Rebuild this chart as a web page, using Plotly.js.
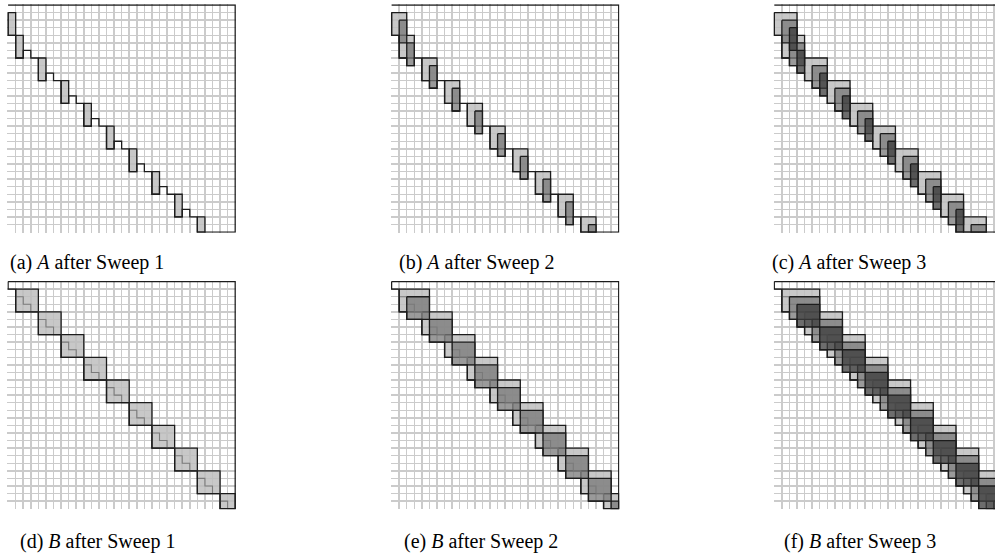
<!DOCTYPE html>
<html><head><meta charset="utf-8">
<script src="https://cdn.plot.ly/plotly-3.0.1.min.js"></script>
<style>html,body{margin:0;padding:0;background:#fff}#chart{width:995px;height:555px}</style>
</head><body><div id="chart"></div>
<script>
// ---- data ----
const N = 30; // matrix order (grid cells per side)
const aAnchorCols = [0, 1, 4, 7, 10, 13, 16, 19, 22, 25];
const aAnchorRows = [1, 4, 7, 10, 13, 16, 19, 22, 25, 28];
const bAnchorCols = [1, 4, 7, 10, 13, 16, 19, 22, 25, 28];
const bAnchorRows = [1, 4, 7, 10, 13, 16, 19, 22, 25, 28];
const blockHeight = 3;
const aBlockWidths = [[1], [2, 1], [3, 2, 1]];   // per sweep, per layer
const bBlockWidths = [[3], [4, 3], [5, 4, 3]];
const layerShift = [0, 1, 2];
const profileA1 = [4, 7,6,7, 10,9,10, 13,12,13, 16,15,16, 19,18,19, 22,21,22, 25,24,25, 28,27,28, 30,30,30,30,30];
const profileA2 = [4, 7,8,7, 10,11,10, 13,14,13, 16,17,16, 19,20,19, 22,23,22, 25,26,25, 28,29,28, 30,30,30,30,30];
const profileA3 = [4, 7,8,9,10,11,12,13,14,15,16,17,18,19,20,21,22,23,24,25,26,27,28,29,30, 30,30,30,30,30];
const profileB1 = [1, 4,4,4, 7,7,7, 10,10,10, 13,13,13, 16,16,16, 19,19,19, 22,22,22, 25,25,25, 28,28,28, 30,30];
const profileB2 = [1, 4,5,5, 7,8,8, 10,11,11, 13,14,14, 16,17,17, 19,20,20, 22,23,23, 25,26,26, 28,29,29, 30,30];
const profileB3 = [1, 4,5,6,7,8,9,10,11,12,13,14,15,16,17,18,19,20,21,22,23,24,25,26,27,28,29,30, 30,30];
const bandB = [1,2,3,4,5,6,7,8,9,10,11,12,13,14,15,16,17,18,19,20,21,22,23,24,25,26,27,28,29,30];
const captionLetters = ['(a)', '(b)', '(c)', '(d)', '(e)', '(f)'];
const captionMatrix = ['A', 'A', 'A', 'B', 'B', 'B'];
const captionSweeps = [1, 2, 3, 1, 2, 3];

// ---- styling / layout ----
const W = 995, H = 555;
const cell = 7.57, pad = 0.1;
const colLeft = [8.1, 391.6, 774.3];
const rowTop = [5.0, 281.6];
const captionPos = [[8, 262], [397, 262], [770, 262], [18, 541], [402, 541], [782, 541]];
const layerFill = ['rgba(190,190,190,0.85)', 'rgba(120,120,120,0.75)', 'rgba(60,60,60,0.75)'];
const edgeColor = '#1c1c1c';

const panels = [];
for (let p = 0; p < 6; p++) {
  const isA = p < 3;
  panels.push({
    isA, sweep: captionSweeps[p],
    profile: [profileA1, profileA2, profileA3, profileB1, profileB2, profileB3][p],
    col: p % 3, row: Math.floor(p / 3)
  });
}

const traces = [];
const layout = {
  width: W, height: H, margin: {l: 0, r: 0, t: 0, b: 0},
  paper_bgcolor: '#fff', plot_bgcolor: '#fff', showlegend: false,
  annotations: []
};

panels.forEach((pn, i) => {
  const k = i === 0 ? '' : String(i + 1);
  const xa = 'x' + k, ya = 'y' + k;
  const left = colLeft[pn.col] - pad * cell;
  let right = colLeft[pn.col] + (N + pad) * cell;
  let xmax = N + pad;
  if (right > W) { xmax = N + pad - (right - W) / cell; right = W; }
  const top = rowTop[pn.row] - pad * cell;
  const bottom = rowTop[pn.row] + (N + pad) * cell;
  const axBase = {showticklabels: false, ticks: '', showgrid: true, gridcolor: '#cbcbcb', gridwidth: 1.5,
    zeroline: false, showline: false, dtick: 1, tick0: 0, fixedrange: true};
  layout['xaxis' + k] = Object.assign({}, axBase, {domain: [left / W, right / W], range: [-pad, xmax], anchor: ya});
  layout['yaxis' + k] = Object.assign({}, axBase, {domain: [1 - bottom / H, 1 - top / H], range: [N + pad, -pad], anchor: xa});

  const cols = pn.isA ? aAnchorCols : bAnchorCols;
  const rows = pn.isA ? aAnchorRows : bAnchorRows;
  const widths = (pn.isA ? aBlockWidths : bBlockWidths)[pn.sweep - 1];

  widths.forEach((w, l) => {
    const xs = [], ys = [];
    cols.forEach((c, m) => {
      const x0 = c + layerShift[l], y0 = rows[m] + layerShift[l];
      if (x0 >= N || y0 >= N) return;
      const x1 = Math.min(x0 + w, N), y1 = Math.min(y0 + blockHeight, N);
      xs.push(x0, x1, x1, x0, x0, null);
      ys.push(y0, y0, y1, y1, y0, null);
    });
    traces.push({type: 'scatter', mode: 'lines', x: xs, y: ys, xaxis: xa, yaxis: ya,
      fill: 'toself', fillcolor: layerFill[l], line: {color: edgeColor, width: 1.3}, hoverinfo: 'skip'});

    // inner band staircase for B, drawn right after the first (light) layer
    if (!pn.isA && l === 0) {
      const sx = [0], sy = [bandB[0]];
      bandB.forEach((b, j) => { sx.push(j, j + 1); sy.push(b, b); });
      traces.push({type: 'scatter', mode: 'lines', x: sx, y: sy, xaxis: xa, yaxis: ya,
        line: {color: 'rgba(110,110,110,0.85)', width: 1.1}, hoverinfo: 'skip'});
    }
  });

  // profile outline: left start, lower staircase, right edge, top edge
  const start = pn.isA ? 1 : 0;
  const px = [0], py = [start];
  pn.profile.forEach((b, j) => { px.push(j, j + 1); py.push(b, b); });
  px.push(N, N, 0); py.push(N, 0, 0);
  traces.push({type: 'scatter', mode: 'lines', x: px, y: py, xaxis: xa, yaxis: ya,
    line: {color: edgeColor, width: 1.3}, hoverinfo: 'skip'});

  layout.annotations.push({
    xref: 'paper', yref: 'paper', x: captionPos[i][0] / W, y: 1 - captionPos[i][1] / H,
    xanchor: 'left', yanchor: 'middle', showarrow: false,
    text: captionLetters[i] + ' <i>' + captionMatrix[i] + '</i> after Sweep ' + captionSweeps[i],
    font: {family: 'Liberation Serif, serif', size: 20, color: '#000'}
  });
});

Plotly.newPlot('chart', traces, layout, {staticPlot: true, displayModeBar: false});
</script>
</body></html>
